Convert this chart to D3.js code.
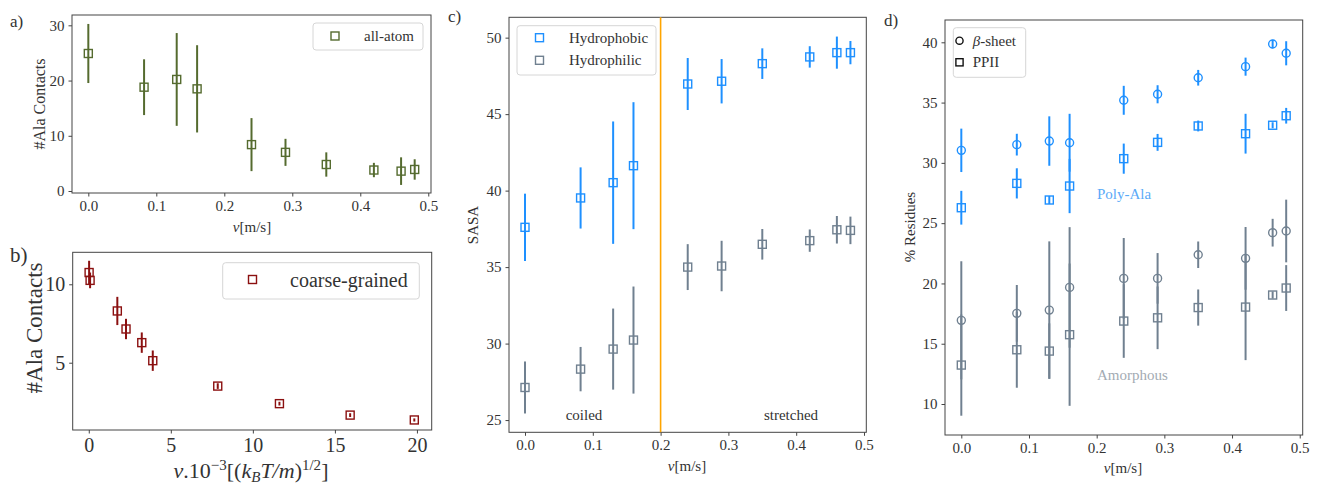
<!DOCTYPE html>
<html>
<head>
<meta charset="utf-8">
<script src="https://cdn.jsdelivr.net/npm/d3@7"></script>
<style>
  body { margin: 0; background: #fff; }
  svg text { font-family: "Liberation Serif", "DejaVu Serif", serif; fill: #333; }
</style>
</head>
<body>
<svg id="fig" width="1320" height="484"></svg>
<script>
// pulling speeds (m/s) shared by all-atom panels
const speeds = [0.0, 0.082, 0.13, 0.16, 0.24, 0.29, 0.35, 0.42, 0.46, 0.48];

// a) all-atom Ala contacts
const contactsAA = [24.9, 18.8, 20.2, 18.5, 8.4, 7.0, 4.8, 3.8, 3.6, 3.9];
const contactsAAErr = [5.35, 5.05, 8.4, 7.9, 4.8, 2.45, 2.2, 1.3, 2.5, 1.85];

// b) coarse-grained Ala contacts
const speedsCG = [0.02, 0.08, 1.74, 2.27, 3.23, 3.9, 7.86, 11.62, 15.93, 19.84];
const contactsCG = [10.75, 10.25, 8.3, 7.15, 6.28, 5.13, 3.51, 2.39, 1.66, 1.35];
const contactsCGErr = [0.75, 0.5, 0.9, 0.65, 0.65, 0.65, 0.18, 0.12, 0.12, 0.1];

// c) SASA
const sasaPhobic = [37.6, 39.52, 40.52, 41.63, 46.97, 47.15, 48.3, 48.74, 49.02, 49.02];
const sasaPhobicErr = [2.2, 2.0, 4.0, 4.15, 1.7, 1.45, 1.0, 0.7, 1.05, 0.76];
const sasaPhilic = [27.13, 28.33, 29.64, 30.23, 35.0, 35.07, 36.49, 36.73, 37.44, 37.4];
const sasaPhilicErr = [1.7, 1.45, 2.65, 3.5, 1.5, 1.65, 1.0, 0.73, 0.9, 0.9];

// d) secondary structure, % residues
const alaSheet = [31.04, 31.51, 31.81, 31.67, 35.19, 35.69, 37.06, 37.98, 39.86, 39.09];
const alaSheetErr = [1.8, 0.9, 2.05, 2.4, 1.2, 0.75, 0.65, 0.75, 0.35, 1.0];
const alaPPII = [26.28, 28.3, 26.92, 28.08, 30.35, 31.7, 33.06, 32.42, 33.12, 33.91];
const alaPPIIErr = [1.4, 1.25, 0.33, 2.25, 1.25, 0.7, 0.45, 1.65, 0.25, 0.65];
const amoSheet = [16.94, 17.52, 17.79, 19.67, 20.42, 20.42, 22.38, 22.08, 24.21, 24.35];
const amoSheetErr = [4.9, 2.35, 5.7, 5.0, 3.35, 2.1, 1.1, 2.6, 1.15, 2.6];
const amoPPII = [13.23, 14.5, 14.39, 15.75, 16.88, 17.15, 18.0, 18.04, 19.04, 19.62];
const amoPPIIErr = [4.2, 3.15, 2.3, 5.9, 3.05, 2.6, 1.5, 4.4, 0.3, 1.9];

const ticksV = [0, 0.1, 0.2, 0.3, 0.4, 0.5];

const svg = d3.select("#fig");
const spineColor = "#444";

function makeAxes(opt) {
  const x = d3.scaleLinear().domain(opt.xDomain).range(opt.xRange);
  const y = d3.scaleLinear().domain(opt.yDomain).range(opt.yRange);
  const g = svg.append("g");

  const xa = g.append("g")
    .attr("transform", "translate(0," + opt.yRange[0] + ")")
    .call(d3.axisBottom(x).tickValues(opt.xTicks).tickFormat(opt.xFormat).tickSize(3.5).tickPadding(4));
  const ya = g.append("g")
    .attr("transform", "translate(" + opt.xRange[0] + ",0)")
    .call(d3.axisLeft(y).tickValues(opt.yTicks).tickFormat(opt.yFormat).tickSize(3.5).tickPadding(4));
  [xa, ya].forEach(a => {
    a.select(".domain").remove();
    a.selectAll("line").attr("stroke", spineColor);
    a.selectAll("text").style("font-size", opt.tickSize + "px").style("font-family", "Liberation Serif, serif").attr("fill", "#333");
  });

  // frame
  g.append("rect")
    .attr("x", opt.xRange[0]).attr("y", opt.yRange[1])
    .attr("width", opt.xRange[1] - opt.xRange[0])
    .attr("height", opt.yRange[0] - opt.yRange[1])
    .attr("fill", "none").attr("stroke", spineColor).attr("stroke-width", 1);

  return {x: x, y: y, g: g};
}

function errSeries(ax, xs, ys, es, color, shape, size, lw) {
  const pts = xs.map((v, i) => ({x: v, y: ys[i], e: es[i]}));
  ax.g.append("g").selectAll("line").data(pts).enter().append("line")
    .attr("x1", d => ax.x(d.x)).attr("x2", d => ax.x(d.x))
    .attr("y1", d => ax.y(d.y - d.e)).attr("y2", d => ax.y(d.y + d.e))
    .attr("stroke", color).attr("stroke-width", lw);
  const m = ax.g.append("g").selectAll(".mk").data(pts).enter();
  if (shape === "square") {
    m.append("rect")
      .attr("x", d => ax.x(d.x) - size / 2).attr("y", d => ax.y(d.y) - size / 2)
      .attr("width", size).attr("height", size)
      .attr("fill", "none").attr("stroke", color).attr("stroke-width", 1.4);
  } else {
    m.append("circle")
      .attr("cx", d => ax.x(d.x)).attr("cy", d => ax.y(d.y)).attr("r", size / 2)
      .attr("fill", "none").attr("stroke", color).attr("stroke-width", 1.4);
  }
}

function legendBox(x, y, w, h) {
  svg.append("rect").attr("x", x).attr("y", y).attr("width", w).attr("height", h)
    .attr("rx", 3).attr("fill", "#fff").attr("fill-opacity", 0.85)
    .attr("stroke", "#d6d6d6").attr("stroke-width", 1);
}

function vLabel(x, y, size) {
  const t = svg.append("text").attr("x", x).attr("y", y).attr("text-anchor", "middle")
    .style("font-size", size + "px");
  t.append("tspan").attr("font-style", "italic").text("v");
  t.append("tspan").text("[m/s]");
  return t;
}

function panelTag(x, y, s, size) {
  svg.append("text").attr("x", x).attr("y", y).style("font-size", size + "px").text(s);
}

const fmt1 = d3.format(".1f");
const fmt0 = d3.format("d");

// ---------- a) ----------
const olive = "#556b2f";
const axA = makeAxes({
  xDomain: [-0.024, 0.504], xRange: [72, 431],
  yDomain: [-0.36, 31.87], yRange: [193, 15],
  xTicks: ticksV, yTicks: [0, 10, 20, 30], xFormat: fmt1, yFormat: fmt0, tickSize: 15
});
errSeries(axA, speeds, contactsAA, contactsAAErr, olive, "square", 8, 2);
legendBox(313, 23, 110, 27);
svg.append("rect").attr("x", 331).attr("y", 32).attr("width", 8).attr("height", 8)
  .attr("fill", "none").attr("stroke", olive).attr("stroke-width", 1.4);
svg.append("text").attr("x", 364).attr("y", 41).style("font-size", "15px").text("all-atom");
svg.append("text").attr("transform", "translate(45,104) rotate(-90)").attr("text-anchor", "middle")
  .style("font-size", "16px").text("#Ala Contacts");
vLabel(252, 232, 15);
panelTag(10, 27, "a)", 17);

// ---------- b) ----------
const red = "#8b1010";
const axB = makeAxes({
  xDomain: [-0.98, 20.9], xRange: [72.7, 431.7],
  yDomain: [0.71, 12.04], yRange: [430, 252.3],
  xTicks: [0, 5, 10, 15, 20], yTicks: [5, 10], xFormat: fmt0, yFormat: fmt0, tickSize: 20
});
errSeries(axB, speedsCG, contactsCG, contactsCGErr, red, "square", 8, 2);
legendBox(222.7, 262.7, 196.6, 36.3);
svg.append("rect").attr("x", 248.5).attr("y", 275.5).attr("width", 8).attr("height", 8)
  .attr("fill", "none").attr("stroke", red).attr("stroke-width", 1.4);
svg.append("text").attr("x", 290).attr("y", 287).style("font-size", "20px").text("coarse-grained");
svg.append("text").attr("transform", "translate(42,328) rotate(-90)").attr("text-anchor", "middle")
  .style("font-size", "23px").text("#Ala Contacts");
{
  const t = svg.append("text").attr("x", 251).attr("y", 478).attr("text-anchor", "middle")
    .style("font-size", "22px");
  t.append("tspan").attr("font-style", "italic").text("v");
  t.append("tspan").text(".10");
  t.append("tspan").attr("dy", -8).style("font-size", "15px").text("\u22123");
  t.append("tspan").attr("dy", 8).text("[(");
  t.append("tspan").attr("font-style", "italic").text("k");
  t.append("tspan").attr("dy", 4).attr("font-style", "italic").style("font-size", "15px").text("B");
  t.append("tspan").attr("dy", -4).attr("font-style", "italic").text("T/m");
  t.append("tspan").text(")");
  t.append("tspan").attr("dy", -8).style("font-size", "15px").text("1/2");
  t.append("tspan").attr("dy", 8).text("]");
}
panelTag(10, 262, "b)", 21);

// ---------- c) ----------
const blue = "#1e90ff";
const slate = "#708090";
const axC = makeAxes({
  xDomain: [-0.0236, 0.5034], xRange: [509, 866.3],
  yDomain: [24.2, 51.33], yRange: [432.3, 17.3],
  xTicks: ticksV, yTicks: [25, 30, 35, 40, 45, 50], xFormat: fmt1, yFormat: fmt0, tickSize: 15
});
axC.g.append("line").attr("x1", axC.x(0.2)).attr("x2", axC.x(0.2))
  .attr("y1", 17.3).attr("y2", 432.3).attr("stroke", "orange").attr("stroke-width", 1.6);
errSeries(axC, speeds, sasaPhobic, sasaPhobicErr, blue, "square", 8, 2);
errSeries(axC, speeds, sasaPhilic, sasaPhilicErr, slate, "square", 8, 2);
legendBox(517, 25.7, 139, 49.3);
[["Hydrophobic", blue, 37.7], ["Hydrophilic", slate, 60.3]].forEach(r => {
  svg.append("rect").attr("x", 535.5).attr("y", r[2] - 4).attr("width", 8).attr("height", 8)
    .attr("fill", "none").attr("stroke", r[1]).attr("stroke-width", 1.4);
  svg.append("text").attr("x", 569).attr("y", r[2] + 5).style("font-size", "15px").text(r[0]);
});
svg.append("text").attr("x", 584).attr("y", 420).attr("text-anchor", "middle").style("font-size", "15px").text("coiled");
svg.append("text").attr("x", 791).attr("y", 420).attr("text-anchor", "middle").style("font-size", "15px").text("stretched");
svg.append("text").attr("transform", "translate(478,225) rotate(-90)").attr("text-anchor", "middle")
  .style("font-size", "15px").text("SASA");
vLabel(687, 471, 15);
panelTag(448, 22, "c)", 17);

// ---------- d) ----------
const axD = makeAxes({
  xDomain: [-0.0241, 0.5044], xRange: [945, 1302.7],
  yDomain: [7.43, 41.85], yRange: [435, 20],
  xTicks: ticksV, yTicks: [10, 15, 20, 25, 30, 35, 40], xFormat: fmt1, yFormat: fmt0, tickSize: 15
});
errSeries(axD, speeds, alaSheet, alaSheetErr, blue, "circle", 8, 2);
errSeries(axD, speeds, alaPPII, alaPPIIErr, blue, "square", 8, 2);
errSeries(axD, speeds, amoSheet, amoSheetErr, slate, "circle", 8, 2);
errSeries(axD, speeds, amoPPII, amoPPIIErr, slate, "square", 8, 2);
legendBox(953.3, 27.7, 72.4, 49.6);
svg.append("circle").attr("cx", 959.5).attr("cy", 40.7).attr("r", 3.6)
  .attr("fill", "none").attr("stroke", "#111").attr("stroke-width", 1.4);
svg.append("rect").attr("x", 955.9).attr("y", 58.7).attr("width", 7.2).attr("height", 7.2)
  .attr("fill", "none").attr("stroke", "#111").attr("stroke-width", 1.4);
{
  const t = svg.append("text").attr("x", 972.7).attr("y", 45.7).style("font-size", "15px");
  t.append("tspan").attr("font-style", "italic").text("\u03b2");
  t.append("tspan").text("-sheet");
}
svg.append("text").attr("x", 972.7).attr("y", 67.3).style("font-size", "15px").text("PPII");
svg.append("text").attr("x", 1097).attr("y", 198.5).style("font-size", "15px")
  .style("fill", "#5aaaf8").text("Poly-Ala");
svg.append("text").attr("x", 1097).attr("y", 380).style("font-size", "15px")
  .style("fill", "#a3abb3").text("Amorphous");
svg.append("text").attr("transform", "translate(915,227) rotate(-90)").attr("text-anchor", "middle")
  .style("font-size", "15px").text("% Residues");
vLabel(1123, 473, 15);
panelTag(884, 26, "d)", 17);
</script>
</body>
</html>
